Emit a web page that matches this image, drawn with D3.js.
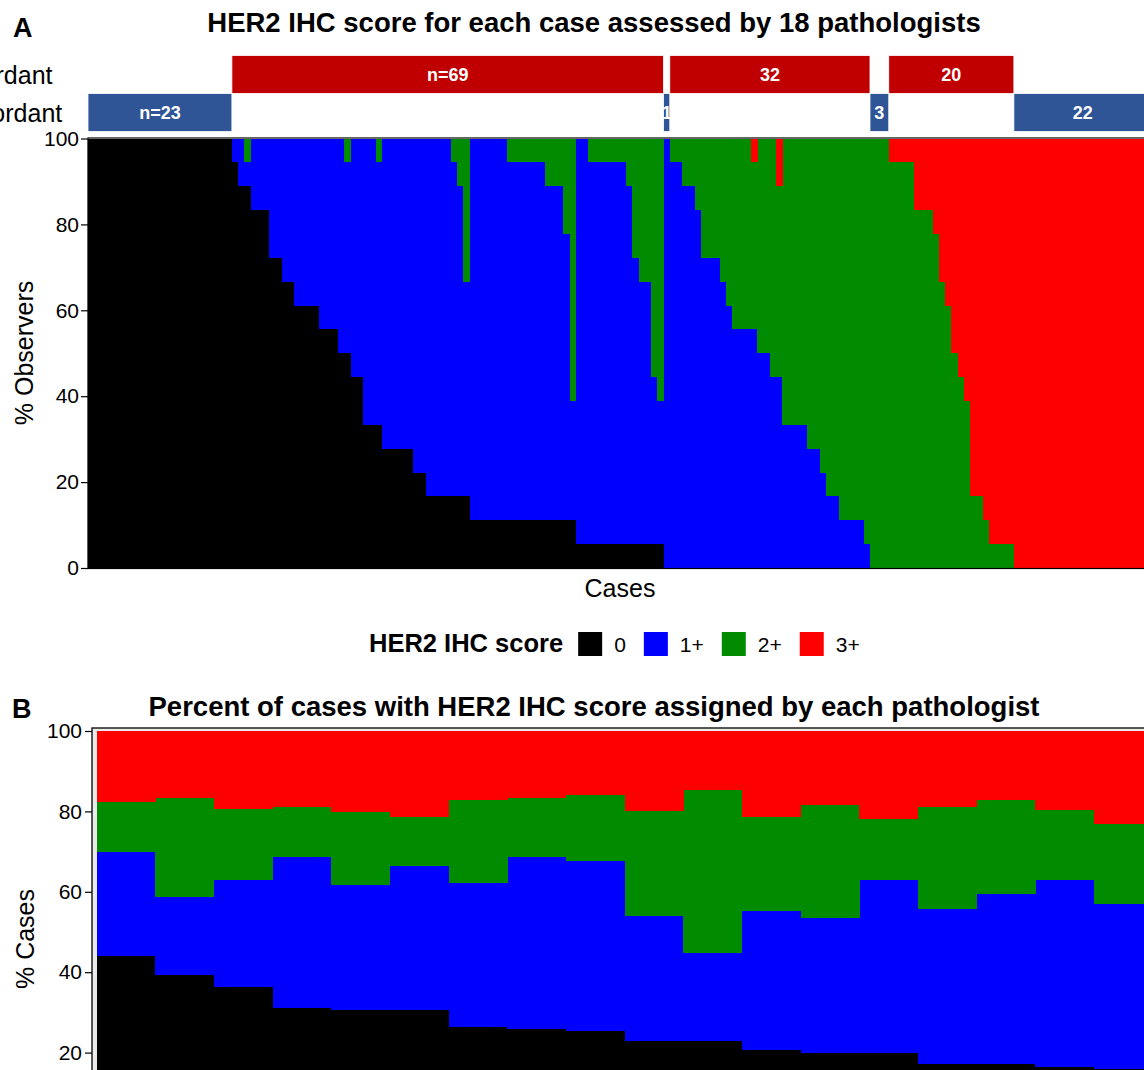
<!DOCTYPE html>
<html>
<head>
<meta charset="utf-8">
<script src="https://cdn.jsdelivr.net/npm/d3@7"></script>
<style>
body { margin: 0; background: #fff; }
svg { display: block; font-family: "Liberation Sans", Arial, Helvetica, sans-serif; }
</style>
</head>
<body>
<svg id="chart" width="1144" height="1070"></svg>
<script>
// ---- panel A: number of the 18 pathologists giving each score, per case ----
var count0 = [
18,18,18,18,18,18,18,18,18,18, 18,18,18,18,18,18,18,18,18,18,
18,18,18,17,16,16,15,15,15,13, 13,12,12,11,11,11,11,10,10,10,
9,9,8,8,6,6,6,5,5,5, 5,5,4,4,3,3,3,3,3,3,
3,2,2,2,2,2,2,2,2,2, 2,2,2,2,2,2,2,2,1,1,
1,1,1,1,1,1,1,1,1,1, 1,1,0,0,0,0,0,0,0,0,
0,0,0,0,0,0,0,0,0,0, 0,0,0,0,0,0,0,0,0,0,
0,0,0,0,0,0,0,0,0,0, 0,0,0,0,0,0,0,0,0,0,
0,0,0,0,0,0,0,0,0,0, 0,0,0,0,0,0,0,0,0,0,
0,0,0,0,0,0,0,0,0,0
];
var count1 = [
0,0,0,0,0,0,0,0,0,0, 0,0,0,0,0,0,0,0,0,0,
0,0,0,1,2,1,3,3,3,5, 5,6,6,7,7,7,7,8,8,8,
9,8,10,10,12,12,11,13,13,13, 13,13,14,14,15,15,15,15,14,13,
9,16,16,16,16,16,16,15,15,15, 15,15,15,14,14,14,12,5,17,17,
16,16,16,16,16,16,15,12,11,11, 7,6,18,17,17,16,16,15,13,13,
13,12,11,10,10,10,10,9,9,8, 8,6,6,6,6,5,5,4,3,3,
2,2,2,2,1,0,0,0,0,0, 0,0,0,0,0,0,0,0,0,0,
0,0,0,0,0,0,0,0,0,0, 0,0,0,0,0,0,0,0,0,0,
0,0,0,0,0,0,0,0,0,0
];
var count2 = [
0,0,0,0,0,0,0,0,0,0, 0,0,0,0,0,0,0,0,0,0,
0,0,0,0,0,1,0,0,0,0, 0,0,0,0,0,0,0,0,0,0,
0,1,0,0,0,0,1,0,0,0, 0,0,0,0,0,0,0,0,1,2,
6,0,0,0,0,0,0,1,1,1, 1,1,1,2,2,2,4,11,0,0,
1,1,1,1,1,1,2,5,6,6, 10,11,0,1,1,2,2,3,5,5,
5,6,7,8,8,8,7,9,9,10, 8,12,12,12,12,13,13,14,15,15,
16,16,16,16,17,18,18,18,17,17, 17,17,15,15,15,14,12,11,9,8,
7,3,3,2,1,1,1,1,0,0, 0,0,0,0,0,0,0,0,0,0,
0,0,0,0,0,0,0,0,0,0
];
var count3 = [
0,0,0,0,0,0,0,0,0,0, 0,0,0,0,0,0,0,0,0,0,
0,0,0,0,0,0,0,0,0,0, 0,0,0,0,0,0,0,0,0,0,
0,0,0,0,0,0,0,0,0,0, 0,0,0,0,0,0,0,0,0,0,
0,0,0,0,0,0,0,0,0,0, 0,0,0,0,0,0,0,0,0,0,
0,0,0,0,0,0,0,0,0,0, 0,0,0,0,0,0,0,0,0,0,
0,0,0,0,0,0,1,0,0,0, 2,0,0,0,0,0,0,0,0,0,
0,0,0,0,0,0,0,0,1,1, 1,1,3,3,3,4,6,7,9,10,
11,15,15,16,17,17,17,17,18,18, 18,18,18,18,18,18,18,18,18,18,
18,18,18,18,18,18,18,18,18,18
];
var nObservers = 18;

// concordance groups along the case axis
var groupSizes = [23, 69, 1, 32, 3, 20, 22];
var groupLabels = ["n=23", "n=69", "1", "32", "3", "20", "22"];
var groupTypes = ["Concordant", "Discordant", "Concordant", "Discordant", "Concordant", "Discordant", "Concordant"];

// ---- panel B: percent of cases per score, per pathologist ----
var pathologists = [1,2,3,4,5,6,7,8,9,10,11,12,13,14,15,16,17,18];
var pct0 = [44.0,39.3,36.4,31.2,30.6,30.6,26.4,25.9,25.3,23.0,23.0,20.6,20.0,20.0,17.1,17.1,16.5,16.0];
var pct1 = [25.9,19.5,26.5,37.5,31.2,35.8,35.9,42.8,42.3,31.1,21.7,34.6,33.6,42.9,38.7,42.3,46.4,41.0];
var pct2 = [12.4,24.6,17.6,12.3,18.1,12.3,20.5,14.7,16.4,25.9,40.5,23.5,27.9,15.2,25.2,23.4,17.5,19.9];
var pct3 = [17.7,16.6,19.5,19.0,20.1,21.3,17.2,16.6,16.0,20.0,14.8,21.3,18.5,21.9,19.0,17.2,19.6,23.1];

var scoreKeys = ["0", "1+", "2+", "3+"];
var scoreColors = ["#000000", "#0000ff", "#008b00", "#ff0000"];
var yTicks = [0, 20, 40, 60, 80, 100];

var svg = d3.select("#chart");
var color = d3.scaleOrdinal().domain(scoreKeys).range(scoreColors);

function styleAxis (g) {
	g.select(".domain").attr("stroke", "#000").attr("stroke-width", 1.2);
	g.selectAll(".tick line").attr("stroke", "#000").attr("stroke-width", 1.2);
	g.selectAll(".tick text").attr("fill", "#000").style("font-size", "21px").style("font-family", "Liberation Sans, Arial, sans-serif");
}

// ================= PANEL A =================
var caseRows = count0.map(function (d, i) {
	return { id: i, "0": d * 100 / nObservers, "1+": count1[i] * 100 / nObservers, "2+": count2[i] * 100 / nObservers, "3+": count3[i] * 100 / nObservers };
});
var xA = d3.scaleBand().domain(caseRows.map(function (d) { return d.id; })).range([88, 1151.5]);
var yA = d3.scaleLinear().domain([0, 100]).range([568, 138.5]);
var stackA = d3.stack().keys(scoreKeys)(caseRows);

svg.append("g").selectAll("g").data(stackA).join("g")
	.attr("fill", function (s) { return color(s.key); })
	.selectAll("rect").data(function (s) { return s; }).join("rect")
	.attr("shape-rendering", "crispEdges")
	.attr("x", function (d) { return xA(d.data.id); })
	.attr("width", xA.bandwidth() + 0.4)
	.attr("y", function (d) { return yA(d[1]); })
	.attr("height", function (d) { return yA(d[0]) - yA(d[1]); });

svg.append("rect").attr("x", 88).attr("y", 138).attr("width", 1063.5).attr("height", 430.5)
	.attr("fill", "none").attr("stroke", "#000").attr("stroke-width", 1.2);

svg.append("g").attr("transform", "translate(88,0)")
	.call(d3.axisLeft(yA).tickValues(yTicks).tickSize(7).tickSizeOuter(0).tickPadding(2))
	.call(styleAxis);

// concordance annotation rows
var rowY = d3.scaleBand().domain(["Discordant", "Concordant"]).range([55.5, 131.5]);
var groups = [];
var start = 0;
groupSizes.forEach(function (n, i) {
	groups.push({ start: start, end: start + n - 1, label: groupLabels[i], type: groupTypes[i] });
	start += n;
});
var annot = svg.append("g");
annot.selectAll("rect").data(groups).join("rect")
	.attr("x", function (d) { return xA(d.start); })
	.attr("width", function (d) { return xA(d.end) + xA.bandwidth() - xA(d.start); })
	.attr("y", function (d) { return rowY(d.type); })
	.attr("height", rowY.bandwidth())
	.attr("fill", function (d) { return d.type == "Discordant" ? "#c00000" : "#2f5597"; })
	.attr("stroke", "#ffffff").attr("stroke-width", 0.8);
annot.selectAll("text").data(groups).join("text")
	.attr("x", function (d) { return (xA(d.start) + xA(d.end) + xA.bandwidth()) / 2; })
	.attr("y", function (d) { return rowY(d.type) + rowY.bandwidth() / 2 + 6.5; })
	.attr("text-anchor", "middle").attr("fill", "#fff")
	.style("font-weight", "bold").style("font-size", "18px")
	.text(function (d) { return d.label; });
annot.selectAll("text.row").data(rowY.domain()).join("text").attr("class", "row")
	.attr("x", -67).attr("y", function (d) { return rowY(d) + rowY.bandwidth() / 2 + 9; })
	.style("font-size", "25px").attr("fill", "#000")
	.text(function (d) { return d; });

svg.append("text").attr("x", 13).attr("y", 37).style("font-size", "27px").style("font-weight", "bold").text("A");
svg.append("text").attr("x", 594).attr("y", 32).attr("text-anchor", "middle")
	.style("font-size", "27.5px").style("font-weight", "bold")
	.text("HER2 IHC score for each case assessed by 18 pathologists");
svg.append("text").attr("x", 620).attr("y", 597).attr("text-anchor", "middle").style("font-size", "25px").text("Cases");
svg.append("text").attr("transform", "translate(33,353) rotate(-90)").attr("text-anchor", "middle")
	.style("font-size", "25px").text("% Observers");

// legend
var legend = svg.append("g");
var legTitle = legend.append("text").attr("x", 369).attr("y", 652)
	.style("font-size", "25.5px").style("font-weight", "bold").text("HER2 IHC score");
var lx = 369 + legTitle.node().getComputedTextLength() + 15;
scoreKeys.forEach(function (k) {
	legend.append("rect").attr("x", lx).attr("y", 632).attr("width", 24).attr("height", 24).attr("fill", color(k));
	var t = legend.append("text").attr("x", lx + 36).attr("y", 652).style("font-size", "21px").text(k);
	lx += 36 + t.node().getComputedTextLength() + 18;
});

// ================= PANEL B =================
var pathRows = pathologists.map(function (p, i) {
	return { id: p, "0": pct0[i], "1+": pct1[i], "2+": pct2[i], "3+": pct3[i] };
});
var xB = d3.scaleBand().domain(pathologists).range([96.7, 1152.7]);
var yB = d3.scaleLinear().domain([0, 100]).range([1133, 731]);
var stackB = d3.stack().keys(scoreKeys)(pathRows);

svg.append("rect").attr("x", 92).attr("y", 728).attr("width", 1070).attr("height", 420)
	.attr("fill", "#ebebeb").attr("stroke", "#000").attr("stroke-width", 1.3);

svg.append("g").selectAll("g").data(stackB).join("g")
	.attr("fill", function (s) { return color(s.key); })
	.selectAll("rect").data(function (s) { return s; }).join("rect")
	.attr("shape-rendering", "crispEdges")
	.attr("x", function (d) { return xB(d.data.id); })
	.attr("width", xB.bandwidth() + 0.4)
	.attr("y", function (d) { return yB(d[1]); })
	.attr("height", function (d) { return yB(d[0]) - yB(d[1]); });

svg.append("g").attr("transform", "translate(92,0)")
	.call(d3.axisLeft(yB).tickValues(yTicks).tickSize(7).tickSizeOuter(0).tickPadding(3))
	.call(styleAxis)
	.select(".domain").remove();

svg.append("text").attr("x", 12).attr("y", 718).style("font-size", "27px").style("font-weight", "bold").text("B");
svg.append("text").attr("x", 594).attr("y", 716).attr("text-anchor", "middle")
	.style("font-size", "27.5px").style("font-weight", "bold")
	.text("Percent of cases with HER2 IHC score assigned by each pathologist");
svg.append("text").attr("transform", "translate(34,939) rotate(-90)").attr("text-anchor", "middle")
	.style("font-size", "25px").text("% Cases");
</script>
</body>
</html>
